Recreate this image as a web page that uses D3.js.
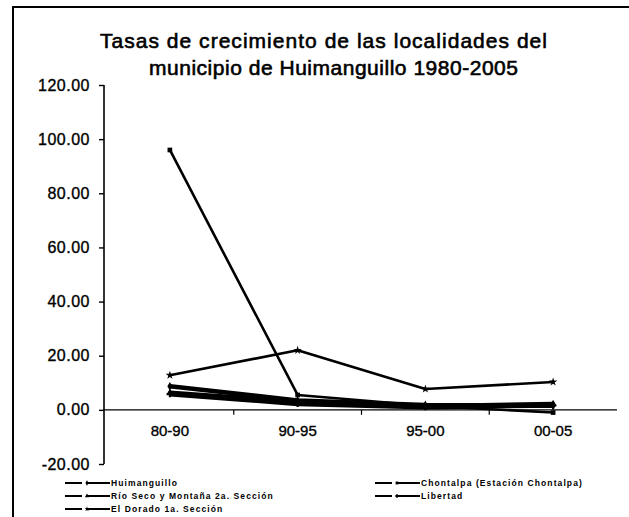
<!DOCTYPE html>
<html>
<head>
<meta charset="utf-8">
<script src="https://cdn.jsdelivr.net/npm/d3@7"></script>
<style>
  body { margin: 0; background: #fff; }
  svg { display: block; font-family: "Liberation Sans", Arial, sans-serif; }
</style>
</head>
<body>
<svg></svg>
<script>
// data
var periods = ["80-90", "90-95", "95-00", "00-05"];
var yTicks = [-20, 0, 20, 40, 60, 80, 100, 120];

var huimanguillo = [8.7, 3.5, 1.8, 1.5];
var chontalpa    = [96.0, 5.5, 1.5, -1.0];
var rioSeco      = [6.3, 3.0, 1.3, 2.2];
var libertad     = [5.8, 2.2, 1.0, 1.6];
var elDorado     = [12.8, 22.0, 7.7, 10.3];

var seriesNames = ["Huimanguillo", "Chontalpa (Estación Chontalpa)", "Río Seco y Montaña 2a. Sección", "Libertad", "El Dorado 1a. Sección"];
var seriesValues = [huimanguillo, chontalpa, rioSeco, libertad, elDorado];
var seriesSymbols = [d3.symbolDiamond, d3.symbolSquare, d3.symbolTriangle, d3.symbolCross, d3.symbolStar];

var W = 629, H = 517;

var svg = d3.select("svg")
    .attr("width", W)
    .attr("height", H);

svg.append("rect").attr("width", W).attr("height", H).attr("fill", "#fff");

// frame (only top and left visible on the scan)
svg.append("path")
    .attr("d", "M13," + H + "V7H" + W)
    .attr("fill", "none")
    .attr("stroke", "#000")
    .attr("stroke-width", 2);

// title
var title = [
  {t: "Tasas de crecimiento de las localidades del", x: 100, y: 48, w: 447},
  {t: "municipio de Huimanguillo 1980-2005", x: 149, y: 75, w: 369}
];
svg.selectAll("text.title")
    .data(title)
  .enter().append("text")
    .attr("class", "title")
    .attr("x", function(d) { return d.x; })
    .attr("y", function(d) { return d.y; })
    .attr("textLength", function(d) { return d.w; })
    .attr("lengthAdjust", "spacing")
    .style("font-size", "21px")
    .attr("stroke", "#000")
    .attr("stroke-width", 0.6)
    .text(function(d) { return d.t; });

var x = d3.scaleBand()
    .domain(periods)
    .range([106, 617]);

var y = d3.scaleLinear()
    .domain([-20, 120])
    .range([464, 85]);

var fmt = d3.format(".2f");

// y axis
var yAxis = svg.append("g")
    .attr("transform", "translate(104,0)")
    .call(d3.axisLeft(y).tickValues(yTicks)
      .tickFormat(function(d) { return fmt(d).replace("\u2212", "-"); })
      .tickSize(5).tickPadding(9));
yAxis.select(".domain").attr("stroke-width", 1.6).attr("d", "M0," + y(120) + "V" + y(-20));
yAxis.selectAll(".tick line").attr("stroke-width", 1.4);
yAxis.selectAll("text")
    .style("font-size", "16px")
    .style("letter-spacing", "0.5px")
    .attr("fill", "#000")
    .attr("stroke", "#000")
    .attr("stroke-width", 0.35);

// x axis on the zero line, ticks between categories
var xAxis = svg.append("g")
    .attr("transform", "translate(0," + y(0) + ")");
xAxis.append("line")
    .attr("x1", 104).attr("x2", x.range()[1])
    .attr("stroke", "#000").attr("stroke-width", 1.4);
xAxis.selectAll("line.tk")
    .data(periods.slice(1))
  .enter().append("line")
    .attr("class", "tk")
    .attr("x1", function(d) { return x(d); })
    .attr("x2", function(d) { return x(d); })
    .attr("y1", 0).attr("y2", 5)
    .attr("stroke", "#000").attr("stroke-width", 1.2);
xAxis.selectAll("text")
    .data(periods)
  .enter().append("text")
    .attr("x", function(d) { return x(d) + x.bandwidth() / 2; })
    .attr("y", 26)
    .attr("text-anchor", "middle")
    .style("font-size", "15px")
    .attr("stroke", "#000")
    .attr("stroke-width", 0.35)
    .text(function(d) { return d; });

// lines
var line = d3.line()
    .x(function(d, i) { return x(periods[i]) + x.bandwidth() / 2; })
    .y(function(d) { return y(d); });

var series = svg.selectAll("g.series")
    .data(seriesValues)
  .enter().append("g")
    .attr("class", "series");

series.append("path")
    .attr("d", line)
    .attr("fill", "none")
    .attr("stroke", "#000")
    .attr("stroke-width", function(d, i) { return i == 1 || i == 4 ? 2.6 : 4.5; })
    .attr("stroke-linejoin", "round");

series.each(function(vals, s) {
  d3.select(this).selectAll("path.mk")
      .data(vals)
    .enter().append("path")
      .attr("class", "mk")
      .attr("transform", function(d, i) {
        return "translate(" + (x(periods[i]) + x.bandwidth() / 2) + "," + y(d) + ")";
      })
      .attr("d", d3.symbol().type(seriesSymbols[s]).size(22))
      .attr("fill", "#000");
});

// legend, two columns, row major
var legend = svg.selectAll("g.legend")
    .data(seriesNames)
  .enter().append("g")
    .attr("class", "legend")
    .attr("transform", function(d, i) {
      return "translate(" + (i % 2 ? 375 : 65) + "," + (486 + Math.floor(i / 2) * 13) + ")";
    });

legend.append("line")
    .attr("x1", 0).attr("x2", 45)
    .attr("y1", -3).attr("y2", -3)
    .attr("stroke", "#000")
    .attr("stroke-width", 2)
    .attr("stroke-dasharray", "17,4,24");

legend.append("path")
    .attr("transform", "translate(22,-3)")
    .attr("d", function(d, i) { return d3.symbol().type(seriesSymbols[i]).size(8)(); })
    .attr("fill", "#000");

legend.append("text")
    .attr("x", 46)
    .attr("y", 0)
    .style("font-size", "8.5px")
    .style("font-weight", "bold")
    .style("letter-spacing", "1.1px")
    .text(function(d) { return d; });
</script>
</body>
</html>
